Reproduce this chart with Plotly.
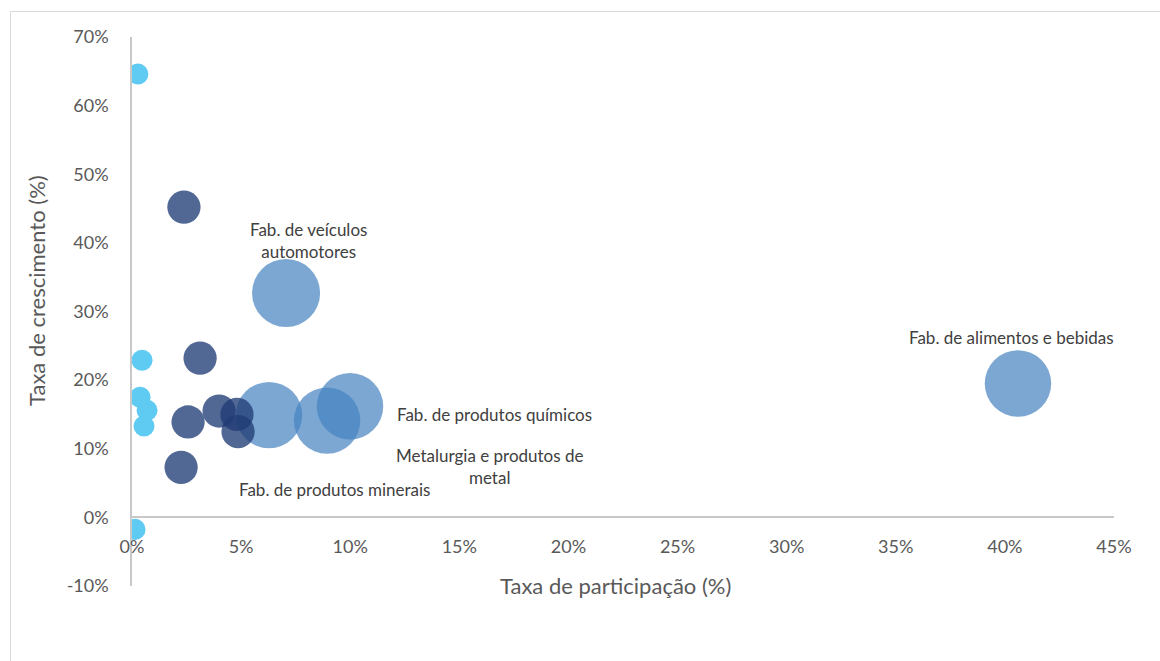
import plotly.graph_objects as go

# ---- data (percent) ----
small_x = [0.27, 0.46, 0.37, 0.69, 0.55, 0.14]
small_y = [64.6, 22.9, 17.5, 15.6, 13.3, -1.75]
small_s = [1, 1, 1, 1, 1, 1]

mid_x = [2.38, 3.12, 2.57, 3.99, 4.81, 4.86, 2.25]
mid_y = [45.2, 23.2, 13.9, 15.5, 15.0, 12.5, 7.3]
mid_s = [2.5, 2.5, 2.5, 2.5, 2.5, 2.5, 2.5]

big_x = [7.06, 6.28, 8.94, 9.99, 40.6]
big_y = [32.7, 14.9, 14.1, 16.2, 19.5]
big_s = [10.5, 10, 10, 10, 10]

label_text = ["Fab. de veículos<br>automotores", "Fab. de alimentos e bebidas",
              "Fab. de produtos químicos", "Metalurgia e produtos de<br>metal",
              "Fab. de produtos minerais"]
label_x = [8.07, 40.3, 16.6, 16.36, 9.26]
label_y = [40.4, 26.25, 15.0, 7.44, 4.08]

x_ticks = [0, 5, 10, 15, 20, 25, 30, 35, 40, 45]
y_ticks = [-10, 0, 10, 20, 30, 40, 50, 60, 70]
x_ticktext = [f"{v}%" for v in x_ticks]
y_ticktext = [f"{v}%" for v in y_ticks]

SIZEREF = 10 / 47.0 ** 2
FONT = "Lato"

fig = go.Figure()
fig.add_trace(go.Scatter(
    x=big_x, y=big_y, mode="markers",
    marker=dict(size=big_s, sizemode="area", sizeref=SIZEREF,
                color="rgb(68,130,192)", opacity=0.7, line=dict(width=0)),
    hoverinfo="x+y"))
fig.add_trace(go.Scatter(
    x=mid_x, y=mid_y, mode="markers",
    marker=dict(size=mid_s, sizemode="area", sizeref=SIZEREF,
                color="rgb(32,60,118)", opacity=0.78, line=dict(width=0)),
    hoverinfo="x+y"))
fig.add_trace(go.Scatter(
    x=small_x, y=small_y, mode="markers",
    marker=dict(size=small_s, sizemode="area", sizeref=SIZEREF,
                color="rgb(95,203,243)", opacity=1, line=dict(width=0)),
    hoverinfo="x+y"))

for t, x, y in zip(label_text, label_x, label_y):
    fig.add_annotation(x=x, y=y, text=t, showarrow=False, xanchor="center", yanchor="middle",
                       font=dict(family=FONT, size=17, color="#404040"))

L, R, T, B = 132, 46, 37, 75
W, H = 1160, 661
pw, ph = W - L - R, H - T - B

fig.add_annotation(xref="paper", yref="paper", x=(36 - L) / pw, y=(H - B - 291) / ph,
                   text="Taxa de crescimento (%)", textangle=-90, showarrow=False,
                   xanchor="center", yanchor="middle",
                   font=dict(family=FONT, size=22, color="#595959"))
fig.add_annotation(xref="paper", yref="paper", x=(615 - L) / pw, y=(H - B - 585) / ph,
                   text="Taxa de participação (%)", showarrow=False,
                   xanchor="center", yanchor="middle",
                   font=dict(family=FONT, size=22, color="#595959"))

# outer chart border
fig.add_shape(type="rect", xref="paper", yref="paper",
              x0=(10.5 - L) / pw, x1=(1175 - L) / pw,
              y0=(H - B - 680) / ph, y1=(H - B - 11.5) / ph,
              line=dict(color="#D9D9D9", width=1), fillcolor="rgba(0,0,0,0)", layer="below")

fig.update_layout(
    width=W, height=H, showlegend=False,
    margin=dict(l=L, r=R, t=T, b=B),
    paper_bgcolor="white", plot_bgcolor="white",
    xaxis=dict(range=[0, 45], tickmode="array", tickvals=x_ticks, ticktext=x_ticktext,
               showgrid=False, zeroline=False,
               showline=True, linecolor="#C8C8C8", linewidth=1.5, ticks="",
               anchor="free", position=10 / 80, layer="below traces",
               ticklabelstandoff=13,
               tickfont=dict(family=FONT, size=18, color="#595959")),
    yaxis=dict(range=[-10, 70], tickmode="array", tickvals=y_ticks, ticktext=y_ticktext,
               showgrid=False, zeroline=False,
               showline=True, linecolor="#C8C8C8", linewidth=1.5, ticks="",
               layer="below traces", ticklabelstandoff=18,
               tickfont=dict(family=FONT, size=18, color="#595959")),
)

fig.write_html("out.html")
